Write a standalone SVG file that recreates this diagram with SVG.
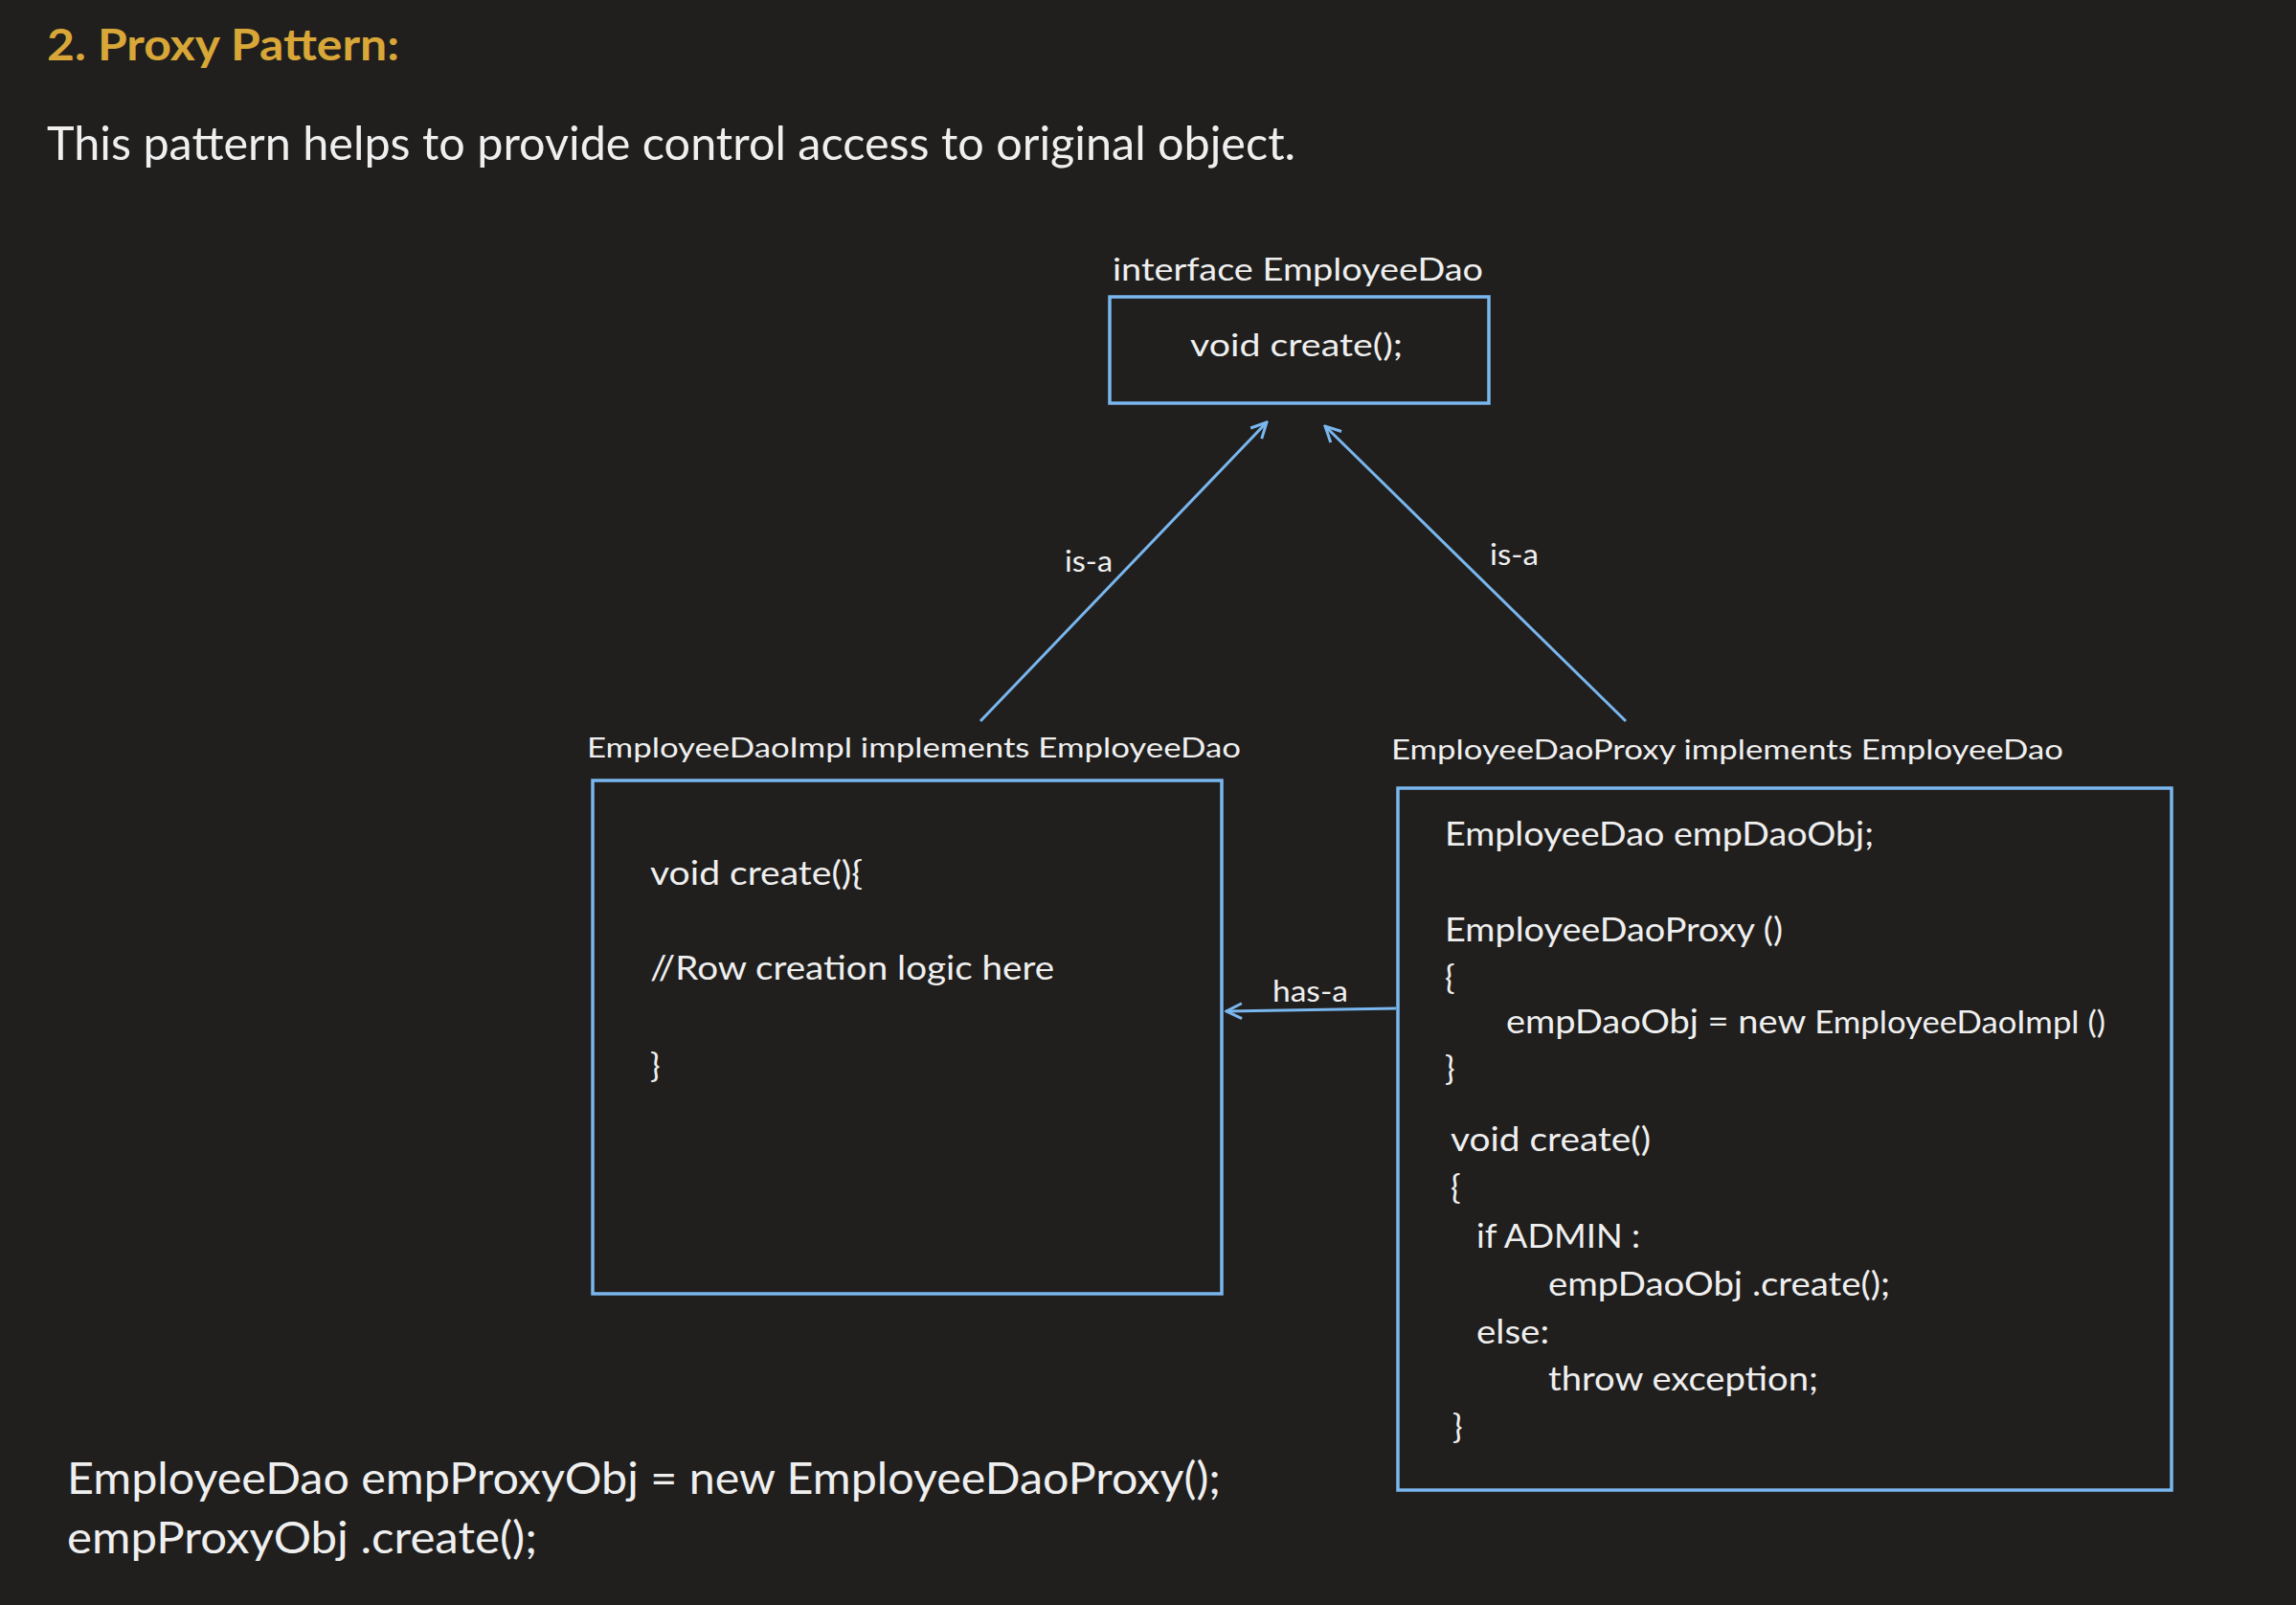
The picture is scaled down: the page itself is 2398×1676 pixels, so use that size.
<svg xmlns="http://www.w3.org/2000/svg" width="2398" height="1676" viewBox="0 0 2398 1676">
<style>
text{font-family:Lato,"Open Sans","Liberation Sans",sans-serif;fill:#efefef}
.title{font-weight:bold;fill:#d8a738;font-size:46px}
.sub{font-size:48px}
.lbl{font-size:33px}
.cls{font-size:29px}
.edge{font-size:30px}
.code{font-size:35px}
.big{font-size:46px}
.box{fill:none;stroke:#7ab7ee;stroke-width:3.5}
.conn{fill:none;stroke:#7ab7ee;stroke-width:3;marker-end:url(#arr)}
</style>
<defs>
<marker id="arr" viewBox="0 0 20 20" refX="18" refY="10" markerWidth="20" markerHeight="20" orient="auto" markerUnits="userSpaceOnUse">
<path d="M2,2 L18,10 L2,18" fill="none" stroke="#7ab7ee" stroke-width="3"/>
</marker>
</defs>
<rect width="2398" height="1676" fill="#201f1e"/>
<text class="title" x="49" y="63" textLength="368" lengthAdjust="spacingAndGlyphs">2. Proxy Pattern:</text>
<text class="sub" x="49" y="167" textLength="1304" lengthAdjust="spacingAndGlyphs">This pattern helps to provide control access to original object.</text>

<g id="connectors">
<line class="conn" x1="1024" y1="753" x2="1323" y2="441"/>
<line class="conn" x1="1698" y1="753" x2="1384" y2="445"/>
<line class="conn" x1="1458" y1="1053" x2="1281" y2="1056"/>
<text class="edge" x="1112" y="597" textLength="50" lengthAdjust="spacingAndGlyphs">is-a</text>
<text class="edge" x="1556" y="590" textLength="51" lengthAdjust="spacingAndGlyphs">is-a</text>
<text class="edge" x="1329" y="1046" textLength="79" lengthAdjust="spacingAndGlyphs">has-a</text>
</g>

<g id="node-interface">
<text class="lbl" x="1162" y="293" textLength="387" lengthAdjust="spacingAndGlyphs">interface EmployeeDao</text>
<rect class="box" x="1159" y="310" width="396" height="111"/>
<text class="lbl" x="1243" y="372" textLength="222" lengthAdjust="spacingAndGlyphs">void create();</text>
</g>

<g id="node-impl">
<text class="cls" x="613" y="791" textLength="683" lengthAdjust="spacingAndGlyphs">EmployeeDaoImpl implements EmployeeDao</text>
<rect class="box" x="619" y="815" width="657" height="536"/>
<text class="code" x="679" y="924" textLength="222" lengthAdjust="spacingAndGlyphs">void create(){</text>
<text class="code" x="679" y="1023" textLength="422" lengthAdjust="spacingAndGlyphs">//Row creation logic here</text>
<text class="code" x="679" y="1125">}</text>
</g>

<g id="node-proxy">
<text class="cls" x="1453" y="793" textLength="702" lengthAdjust="spacingAndGlyphs">EmployeeDaoProxy implements EmployeeDao</text>
<rect class="box" x="1460" y="823" width="808" height="733"/>
<text class="code" x="1509" y="883" textLength="448" lengthAdjust="spacingAndGlyphs">EmployeeDao empDaoObj;</text>
<text class="code" x="1509" y="983" textLength="353" lengthAdjust="spacingAndGlyphs">EmployeeDaoProxy ()</text>
<text class="code" x="1509" y="1033">{</text>
<text class="code" x="1573" y="1079" textLength="626" lengthAdjust="spacingAndGlyphs">empDaoObj = new <tspan font-size="32">EmployeeDaoImpl ()</tspan></text>
<text class="code" x="1509" y="1128">}</text>
<text class="code" x="1515" y="1202" textLength="209" lengthAdjust="spacingAndGlyphs">void create()</text>
<text class="code" x="1515" y="1252">{</text>
<text class="code" x="1542" y="1303" textLength="171" lengthAdjust="spacingAndGlyphs">if ADMIN :</text>
<text class="code" x="1617" y="1353" textLength="357" lengthAdjust="spacingAndGlyphs">empDaoObj .create();</text>
<text class="code" x="1542" y="1403" textLength="76" lengthAdjust="spacingAndGlyphs">else:</text>
<text class="code" x="1617" y="1452" textLength="282" lengthAdjust="spacingAndGlyphs">throw exception;</text>
<text class="code" x="1517" y="1502">}</text>
</g>

<text class="big" x="70" y="1560" textLength="1205" lengthAdjust="spacingAndGlyphs">EmployeeDao empProxyObj = new EmployeeDaoProxy();</text>
<text class="big" x="70" y="1622" textLength="491" lengthAdjust="spacingAndGlyphs">empProxyObj .create();</text>
</svg>
